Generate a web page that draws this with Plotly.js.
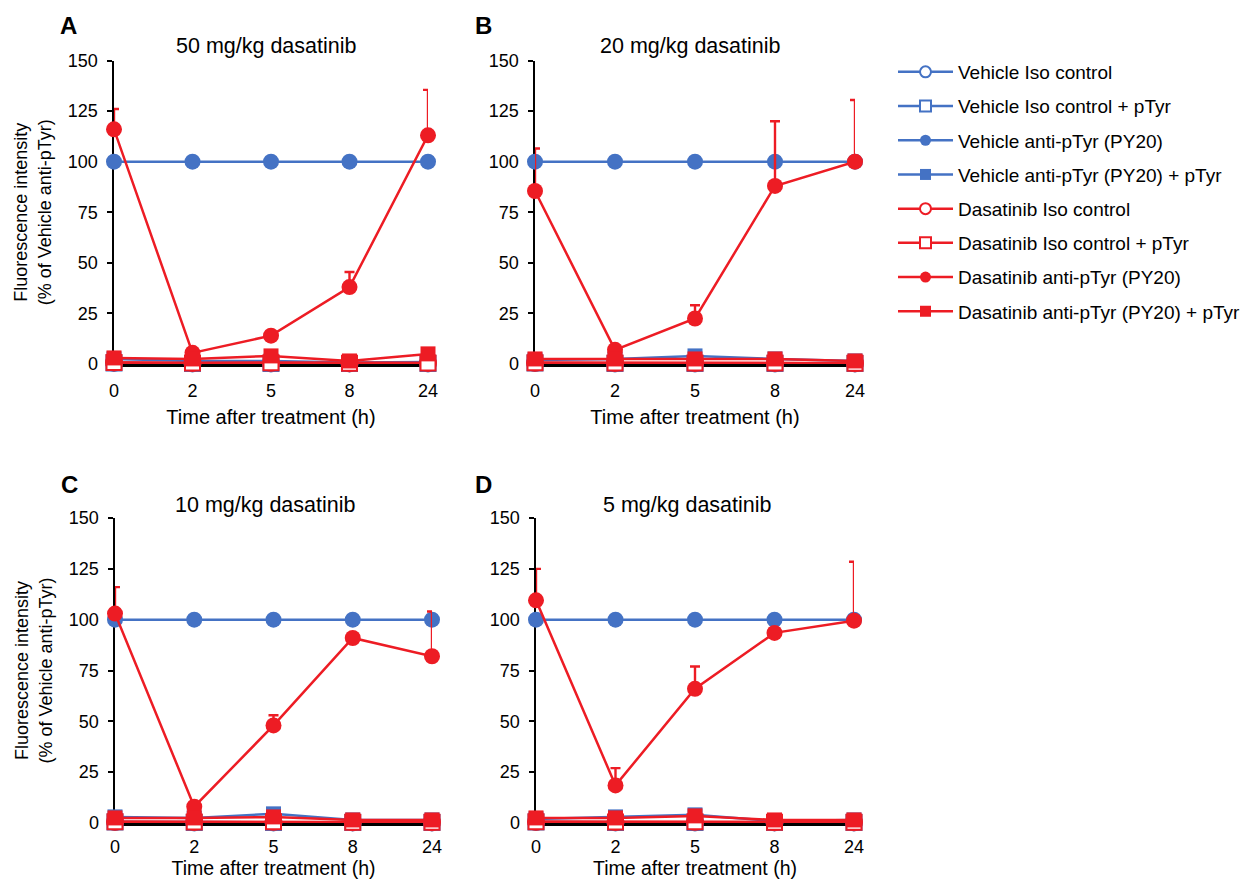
<!DOCTYPE html>
<html>
<head>
<meta charset="utf-8">
<script src="https://cdn.plot.ly/plotly-3.0.1.min.js"></script>
<style>
  html, body { margin: 0; padding: 0; background: #fff; }
  #chart { width: 1250px; height: 879px; }
</style>
</head>
<body>
<div id="chart"></div>
<script>
// ---------- data ----------
const times = ['0', '2', '5', '8', '24'];
const seriesNames = [
  'Vehicle Iso control',
  'Vehicle Iso control + pTyr',
  'Vehicle anti-pTyr (PY20)',
  'Vehicle anti-pTyr (PY20) + pTyr',
  'Dasatinib Iso control',
  'Dasatinib Iso control + pTyr',
  'Dasatinib anti-pTyr (PY20)',
  'Dasatinib anti-pTyr (PY20) + pTyr'
];
const panelTitles = ['50 mg/kg dasatinib', '20 mg/kg dasatinib', '10 mg/kg dasatinib', '5 mg/kg dasatinib'];
const panelLetters = ['A', 'B', 'C', 'D'];
const yTicks = [0, 25, 50, 75, 100, 125, 150];

// Panel A: 50 mg/kg
const A_vehIso   = [0.5, 0.3, 0.3, 0.3, 0.3];
const A_vehIsoP  = [0.5, 0.3, 0.3, 0.3, 0.3];
const A_vehAnti  = [100, 100, 100, 100, 100];
const A_vehAntiP = [2.5, 1.5, 1.5, 0.8, 1.0];
const A_dasIso   = [0.8, 0.5, 0.6, 0.4, 0.5];
const A_dasIsoP  = [0.8, 0.5, 0.6, 0.4, 0.5];
const A_dasAnti  = [116, 5.5, 14, 38, 113];
const A_dasAntiErr = [10, 0, 0, 7.5, 22.5];
const A_dasAntiP = [3, 2.5, 4, 1.5, 5];

// Panel B: 20 mg/kg
const B_vehIso   = [0.5, 0.3, 0.3, 0.3, 0.3];
const B_vehIsoP  = [0.5, 0.3, 0.3, 0.3, 0.3];
const B_vehAnti  = [100, 100, 100, 100, 100];
const B_vehAntiP = [2, 2.5, 4, 2.5, 1.5];
const B_dasIso   = [0.6, 0.5, 0.5, 0.5, 0.4];
const B_dasIsoP  = [0.6, 0.5, 0.5, 0.5, 0.4];
const B_dasAnti  = [85.5, 7, 22.5, 88, 100];
const B_dasAntiErr = [21, 0, 6.5, 32, 30.5];
const B_dasAntiP = [2.5, 2.5, 2.5, 2.5, 1.5];

// Panel C: 10 mg/kg
const C_vehIso   = [0.5, 0.3, 0.3, 0.3, 0.3];
const C_vehIsoP  = [0.5, 0.3, 0.3, 0.3, 0.3];
const C_vehAnti  = [100, 100, 100, 100, 100];
const C_vehAntiP = [3, 2.5, 4.5, 1.5, 1.5];
const C_dasIso   = [0.6, 0.5, 0.6, 0.4, 0.4];
const C_dasIsoP  = [0.6, 0.5, 0.6, 0.4, 0.4];
const C_dasAnti  = [103, 8, 48, 91, 82];
const C_dasAntiErr = [13, 0, 5, 0, 22];
const C_dasAntiP = [2.5, 2.5, 3, 1.5, 1.5];

// Panel D: 5 mg/kg
const D_vehIso   = [0.5, 0.3, 0.3, 0.3, 0.3];
const D_vehIsoP  = [0.5, 0.3, 0.3, 0.3, 0.3];
const D_vehAnti  = [100, 100, 100, 100, 100];
const D_vehAntiP = [2, 3, 4, 1, 1.5];
const D_dasIso   = [0.6, 0.5, 0.6, 0.4, 0.4];
const D_dasIsoP  = [0.6, 0.5, 0.6, 0.4, 0.4];
const D_dasAnti  = [109.5, 18.5, 66, 93.5, 99.5];
const D_dasAntiErr = [15.5, 8.5, 11, 0, 29];
const D_dasAntiP = [2.5, 2.5, 3.5, 1.5, 1.5];

// ---------- styling ----------
const BLUE = '#4472C4';
const RED = '#ED1C24';
const FONT = 'Arial, "Liberation Sans", Helvetica, sans-serif';
const W = 1250, H = 879;

const styles = [
  {color: BLUE, symbol: 'circle', open: true},
  {color: BLUE, symbol: 'square', open: true},
  {color: BLUE, symbol: 'circle', open: false},
  {color: BLUE, symbol: 'square', open: false},
  {color: RED, symbol: 'circle', open: true},
  {color: RED, symbol: 'square', open: true},
  {color: RED, symbol: 'circle', open: false},
  {color: RED, symbol: 'square', open: false}
];

const panels = [
  {series: [A_vehIso, A_vehIsoP, A_vehAnti, A_vehAntiP, A_dasIso, A_dasIsoP, A_dasAnti, A_dasAntiP], err: A_dasAntiErr},
  {series: [B_vehIso, B_vehIsoP, B_vehAnti, B_vehAntiP, B_dasIso, B_dasIsoP, B_dasAnti, B_dasAntiP], err: B_dasAntiErr},
  {series: [C_vehIso, C_vehIsoP, C_vehAnti, C_vehAntiP, C_dasIso, C_dasIsoP, C_dasAnti, C_dasAntiP], err: C_dasAntiErr},
  {series: [D_vehIso, D_vehIsoP, D_vehAnti, D_vehAntiP, D_dasIso, D_dasIsoP, D_dasAnti, D_dasAntiP], err: D_dasAntiErr}
];

// pixel boxes of plot areas: [left, right, top, bottom]
const boxes = [
  [114, 428, 60.5, 364],
  [535, 855, 60.5, 364],
  [115, 432, 518, 823],
  [536, 854, 518, 823]
];

function markerFor(s, size) {
  return {
    symbol: s.symbol,
    size: size,
    color: s.open ? '#FFFFFF' : s.color,
    line: {color: s.color, width: s.open ? 2 : 0}
  };
}

const traces = [];
panels.forEach((p, pi) => {
  const xa = pi === 0 ? 'x' : 'x' + (pi + 1);
  const ya = pi === 0 ? 'y' : 'y' + (pi + 1);
  p.series.forEach((vals, si) => {
    const s = styles[si];
    if (si === 6) {
      // upper-only error bars, clipped to plot area like the original
      traces.push({
        type: 'scatter', mode: 'markers', x: times, y: vals,
        xaxis: xa, yaxis: ya, showlegend: false, hoverinfo: 'skip',
        cliponaxis: true,
        marker: {size: 1, opacity: 0},
        error_y: {type: 'data', symmetric: false, array: p.err,
                  arrayminus: p.err.map(() => 0), color: RED, thickness: 2.4, width: 5}
      });
    }
    traces.push({
      type: 'scatter', mode: 'lines+markers', name: seriesNames[si],
      x: times, y: vals, xaxis: xa, yaxis: ya,
      showlegend: false, cliponaxis: false,
      line: {color: s.color, width: 2.5},
      marker: markerFor(s, s.symbol === 'square' ? 15 : 16)
    });
  });
});

// legend-only entries (smaller symbols as in original legend)
seriesNames.forEach((nm, si) => {
  const s = styles[si];
  traces.push({
    type: 'scatter', mode: 'lines+markers', name: nm,
    x: [null], y: [null], xaxis: 'x', yaxis: 'y',
    legendgroup: 'g' + si, showlegend: true, hoverinfo: 'skip',
    line: {color: s.color, width: 2.5},
    marker: markerFor(s, 11)
  });
});

const layout = {
  width: W, height: H,
  margin: {l: 0, r: 0, t: 0, b: 0},
  paper_bgcolor: '#FFFFFF', plot_bgcolor: '#FFFFFF',
  font: {family: FONT, color: '#000000', size: 17},
  showlegend: true,
  legend: {
    x: 893 / W, y: 1 - 53 / H, xanchor: 'left', yanchor: 'top',
    font: {family: FONT, size: 19, color: '#000'},
    itemwidth: 55, traceorder: 'grouped', tracegroupgap: 6.5,
    bgcolor: 'rgba(0,0,0,0)', borderwidth: 0
  },
  annotations: [],
  hovermode: false
};

boxes.forEach((b, i) => {
  const suf = i === 0 ? '' : String(i + 1);
  const bottomRow = i >= 2;
  const xa = {
    domain: [b[0] / W, b[1] / W],
    anchor: 'y' + suf,
    type: 'category', categoryorder: 'array', categoryarray: times,
    range: [0, 4],
    showline: true, linecolor: '#000', linewidth: 2.5,
    ticks: '', showgrid: false, zeroline: false,
    tickfont: {family: FONT, size: 18, color: '#000'},
    ticklabelstandoff: bottomRow ? 6 : 9,
    layer: 'below traces', fixedrange: true,
    title: {text: 'Time after treatment (h)',
            font: {family: FONT, size: bottomRow ? 19.5 : 20, color: '#000'},
            standoff: bottomRow ? 9 : 10}
  };
  const ya = {
    domain: [1 - b[3] / H, 1 - b[2] / H],
    anchor: 'x' + suf,
    range: [0, 150],
    tickmode: 'array', tickvals: yTicks, ticktext: yTicks.map(String),
    showline: true, linecolor: '#000', linewidth: 2.5,
    ticks: 'outside', ticklen: 5, tickwidth: 2, tickcolor: '#000',
    showgrid: false, zeroline: false,
    tickfont: {family: FONT, size: 18, color: '#000'},
    ticklabelstandoff: 5,
    layer: 'below traces', fixedrange: true
  };
  if (i === 0 || i === 2) {
    ya.title = {text: 'Fluorescence intensity<br>(% of Vehicle anti-pTyr)',
                font: {family: FONT, size: 18, color: '#000'}, standoff: 12};
  }
  layout['xaxis' + suf] = xa;
  layout['yaxis' + suf] = ya;
});

// titles and panel letters
const titlePos = [[266, 46], [690, 46], [265, 505], [687, 505]];
const letterPos = [[68, 26], [483, 26], [69, 485], [483, 485]];
panelTitles.forEach((t, i) => {
  layout.annotations.push({
    text: t, xref: 'paper', yref: 'paper',
    x: titlePos[i][0] / W, y: 1 - titlePos[i][1] / H,
    xanchor: 'center', yanchor: 'middle', showarrow: false,
    font: {family: FONT, size: 21.5, color: '#000'}
  });
  layout.annotations.push({
    text: '<b>' + panelLetters[i] + '</b>', xref: 'paper', yref: 'paper',
    x: letterPos[i][0] / W, y: 1 - letterPos[i][1] / H,
    xanchor: 'center', yanchor: 'middle', showarrow: false,
    font: {family: FONT, size: 24, color: '#000'}
  });
});

Plotly.newPlot('chart', traces, layout, {displayModeBar: false, staticPlot: true});
</script>
</body>
</html>
